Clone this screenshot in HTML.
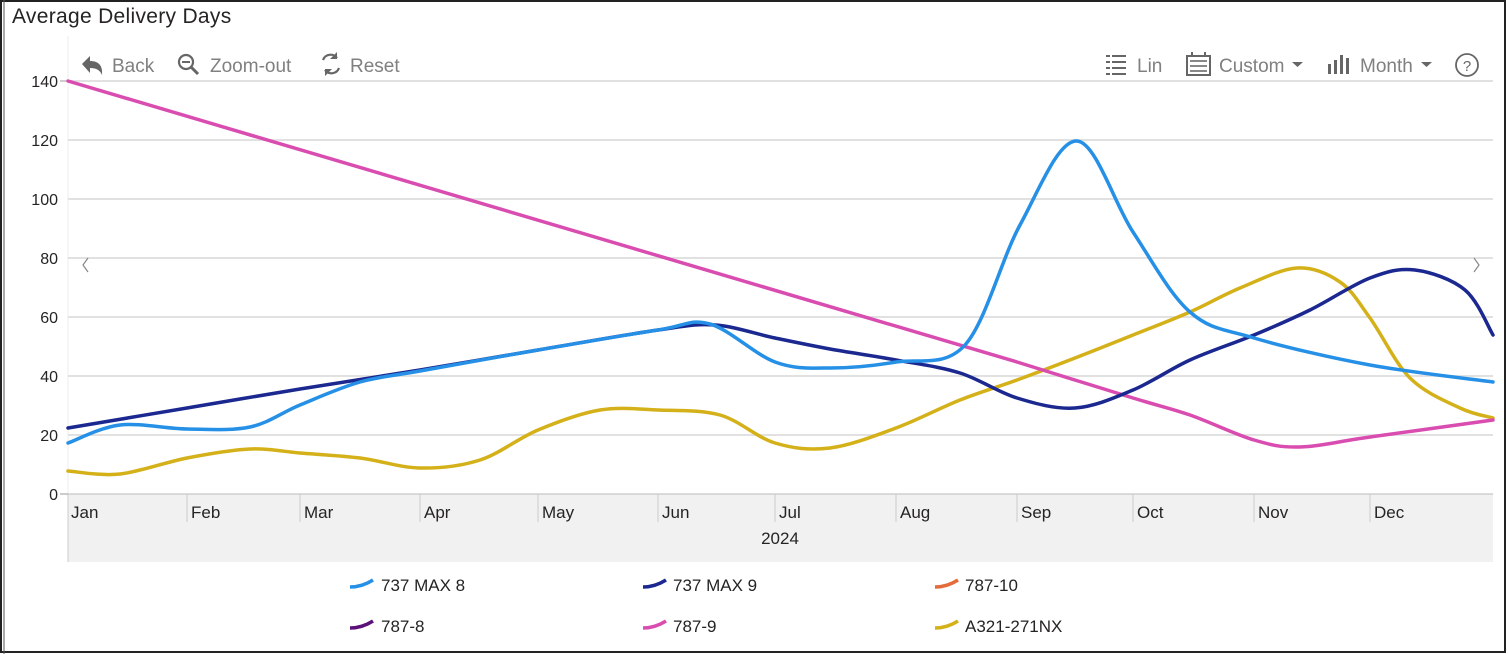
<!DOCTYPE html>
<html><head><meta charset="utf-8"><style>
body{margin:0;background:#fff;}
#w{position:relative;width:1508px;height:654px;overflow:hidden;font-family:"Liberation Sans",sans-serif;}
</style></head><body><div id="w">
<svg width="1508" height="654" xmlns="http://www.w3.org/2000/svg" font-family="Liberation Sans, sans-serif">
<rect x="1" y="1" width="1504" height="651" fill="#fff" stroke="#222" stroke-width="2"/>
<line x1="4" y1="0" x2="4" y2="654" stroke="#555" stroke-width="1"/>
<text x="12" y="23" font-size="21" fill="#252423" letter-spacing="0.3">Average Delivery Days</text>
<line x1="68" y1="36" x2="68" y2="494" stroke="#eee"/>
<g stroke="#e1e1e1" stroke-width="2">
<line x1="68" y1="81" x2="1493" y2="81"/><line x1="68" y1="140" x2="1493" y2="140"/>
<line x1="68" y1="199" x2="1493" y2="199"/><line x1="68" y1="258" x2="1493" y2="258"/>
<line x1="68" y1="317" x2="1493" y2="317"/><line x1="68" y1="376" x2="1493" y2="376"/>
<line x1="68" y1="435" x2="1493" y2="435"/>
</g>
<rect x="68" y="494" width="1425" height="68" fill="#f1f1f1"/>
<line x1="68" y1="494" x2="1493" y2="494" stroke="#bbb"/>
<g stroke="#ccc"><line x1="68" y1="494" x2="68" y2="562"/>
<line x1="187" y1="494" x2="187" y2="522"/><line x1="300" y1="494" x2="300" y2="522"/><line x1="420" y1="494" x2="420" y2="522"/><line x1="538" y1="494" x2="538" y2="522"/><line x1="658" y1="494" x2="658" y2="522"/><line x1="775" y1="494" x2="775" y2="522"/><line x1="896" y1="494" x2="896" y2="522"/><line x1="1017" y1="494" x2="1017" y2="522"/><line x1="1133" y1="494" x2="1133" y2="522"/><line x1="1254" y1="494" x2="1254" y2="522"/><line x1="1370" y1="494" x2="1370" y2="522"/></g>
<g font-size="17" fill="#252423">
<text x="71" y="518">Jan</text><text x="191" y="518">Feb</text><text x="304" y="518">Mar</text><text x="424" y="518">Apr</text><text x="542" y="518">May</text><text x="662" y="518">Jun</text><text x="779" y="518">Jul</text><text x="900" y="518">Aug</text><text x="1021" y="518">Sep</text><text x="1137" y="518">Oct</text><text x="1258" y="518">Nov</text><text x="1374" y="518">Dec</text>
<text x="780" y="544" text-anchor="middle">2024</text>
</g>
<g font-size="16" fill="#252423" text-anchor="end">
<text x="58" y="87">140</text><text x="58" y="146">120</text><text x="58" y="205">100</text><text x="58" y="264">80</text><text x="58" y="323">60</text><text x="58" y="382">40</text><text x="58" y="441">20</text><text x="58" y="500">0</text>
</g>
<g stroke="#999"><line x1="60" y1="81" x2="68" y2="81"/><line x1="60" y1="494" x2="68" y2="494"/></g>
<g font-size="19" fill="#808080">
<path d="M82 64 l8 -8 v5 c8 0 13 4 12 14 c-2 -5 -6 -7 -12 -7 v5z" fill="#666"/>
<text x="112" y="72">Back</text>
<circle cx="186" cy="62" r="7" fill="none" stroke="#666" stroke-width="2.2"/><line x1="182" y1="62" x2="190" y2="62" stroke="#666" stroke-width="2"/><line x1="191" y1="67" x2="198" y2="74" stroke="#666" stroke-width="3"/>
<text x="210" y="72">Zoom-out</text>
<path d="M323 60 a8 8 0 0 1 14 -2 M339 68 a8 8 0 0 1 -14 2" fill="none" stroke="#666" stroke-width="2.2"/><path d="M337 52 v7 h-7z M325 76 v-7 h7z" fill="#666"/>
<text x="350" y="72">Reset</text>
<g stroke="#666" stroke-width="2"><line x1="1106" y1="56" x2="1110" y2="56"/><line x1="1112" y1="56" x2="1126" y2="56"/><line x1="1106" y1="62" x2="1110" y2="62"/><line x1="1112" y1="62" x2="1126" y2="62"/><line x1="1106" y1="68" x2="1110" y2="68"/><line x1="1112" y1="68" x2="1126" y2="68"/><line x1="1106" y1="74" x2="1110" y2="74"/><line x1="1112" y1="74" x2="1126" y2="74"/></g>
<text x="1137" y="72">Lin</text>
<rect x="1187" y="56" width="23" height="19" fill="none" stroke="#666" stroke-width="2"/><path d="M1190 60h17v2h-17zM1190 65h17v2h-17zM1190 70h17v2h-17z" fill="#888"/><line x1="1192" y1="52" x2="1192" y2="57" stroke="#666" stroke-width="2"/><line x1="1205" y1="52" x2="1205" y2="57" stroke="#666" stroke-width="2"/>
<text x="1219" y="72">Custom</text><path d="M1292 62h11l-5.5 5z" fill="#666"/>
<g fill="#666"><rect x="1328" y="64" width="3" height="10"/><rect x="1334" y="60" width="3" height="14"/><rect x="1340" y="55" width="3" height="19"/><rect x="1346" y="58" width="3" height="16"/></g>
<text x="1360" y="72">Month</text><path d="M1421 62h11l-5.5 5z" fill="#666"/>
<circle cx="1467" cy="65" r="11" fill="none" stroke="#666" stroke-width="1.8"/><text x="1467" y="71" font-size="15" text-anchor="middle" fill="#666">?</text>
</g>
<path d="M88 258 l-5 7 l5 7" fill="none" stroke="#888" stroke-width="1.2"/>
<path d="M1474 258 l5 7 l-5 7" fill="none" stroke="#888" stroke-width="1.2"/>
<g fill="none" stroke-width="3.5" stroke-linecap="round" id="lines"></g>
<g font-size="17" fill="#252423">
<path d="M350 587 q12 0 23 -7" fill="none" stroke="#2590e6" stroke-width="3.5"/><text x="381" y="591">737 MAX 8</text>
<path d="M643 587 q12 0 23 -7" fill="none" stroke="#1a2890" stroke-width="3.5"/><text x="673" y="591">737 MAX 9</text>
<path d="M935 587 q12 0 23 -7" fill="none" stroke="#e46c3a" stroke-width="3.5"/><text x="965" y="591">787-10</text>
<path d="M350 628 q12 0 23 -7" fill="none" stroke="#5c1178" stroke-width="3.5"/><text x="381" y="632">787-8</text>
<path d="M643 628 q12 0 23 -7" fill="none" stroke="#d94cb0" stroke-width="3.5"/><text x="673" y="632">787-9</text>
<path d="M935 628 q12 0 23 -7" fill="none" stroke="#d4b019" stroke-width="3.5"/><text x="965" y="632">A321-271NX</text>
</g>
</svg>
<script>
function cr(p){let d="M"+p[0][0]+" "+p[0][1];for(let i=0;i<p.length-1;i++){const a=p[i-1]||p[i],b=p[i],c=p[i+1],e=p[i+2]||c;d+=" C"+(b[0]+(c[0]-a[0])/6)+" "+(b[1]+(c[1]-a[1])/6)+" "+(c[0]-(e[0]-b[0])/6)+" "+(c[1]-(e[1]-b[1])/6)+" "+c[0]+" "+c[1];}return d;}
const S=[
["#d4b019",[[68,471],[120,474],[187,458],[250,449],[300,453],[360,458],[420,468],[480,460],[538,430],[600,410],[658,410],[720,415],[775,443],[830,448],[896,428],[960,400],[1017,380],[1075,358],[1133,335],[1190,312],[1240,288],[1297,268],[1340,282],[1370,318],[1410,378],[1460,408],[1493,418]]],
["#d94cb0",[[68,81],[1017,362],[1133,398],[1190,415],[1254,440],[1300,447],[1370,437],[1493,420]]],
["#1a2890",[[68,428],[187,408],[300,389],[420,370],[538,350],[658,330],[715,325],[775,338],[830,349],[896,360],[960,373],[1017,398],[1075,408],[1133,390],[1190,360],[1254,335],[1310,310],[1370,278],[1415,270],[1465,290],[1493,335]]],
["#2590e6",[[68,443],[120,425],[187,429],[250,427],[300,405],[360,382],[420,371],[538,350],[658,330],[710,324],[775,362],[830,368],[896,362],[965,345],[1020,225],[1077,141],[1133,232],[1190,312],[1254,338],[1370,365],[1493,382]]]];
const g=document.getElementById("lines");
S.forEach(s=>{const p=document.createElementNS("http://www.w3.org/2000/svg","path");
let pts=s[1];if(s[0]=="#d94cb0"){p.setAttribute("d","M68 81 L1017 362 "+cr(pts.slice(1)).replace(/^M[^C]*/,""));}else p.setAttribute("d",cr(pts));
p.setAttribute("stroke",s[0]);g.appendChild(p);});
</script>
</div></body></html>
